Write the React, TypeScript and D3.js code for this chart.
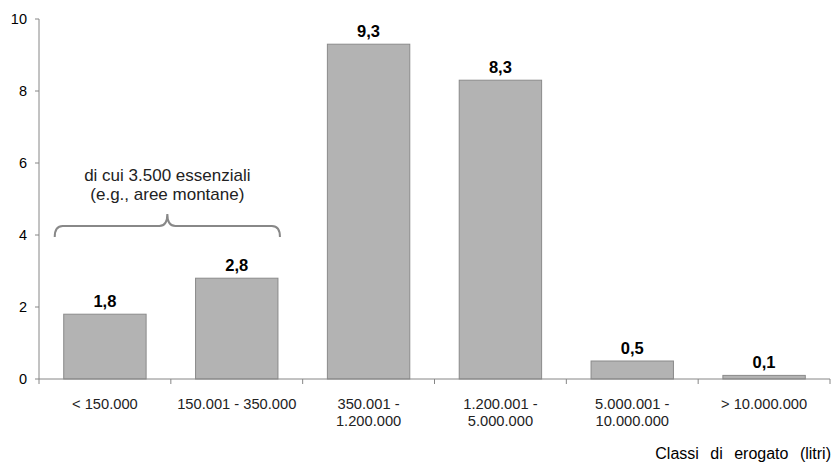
import React from "react";
import * as d3 from "d3";

const categories = ["< 150.000", "150.001 - 350.000", "350.001 -\n1.200.000", "1.200.001 -\n5.000.000", "5.000.001 -\n10.000.000", "> 10.000.000"];
const values = [1.8, 2.8, 9.3, 8.3, 0.5, 0.1];
const yTicks = [0, 2, 4, 6, 8, 10];
const annotationLines = ["di cui 3.500 essenziali", "(e.g., aree montane)"];
const axisTitle = "Classi di erogato (litri)";

const W = 833, H = 464;
const left = 39, right = 830, top = 19, bottom = 379;

export default function App() {
  const x = d3.scaleBand<string>().domain(categories).range([left, right]).paddingInner(0.375).paddingOuter(0.1875);
  const step = x.step();
  const y = d3.scaleLinear().domain([0, 10]).range([bottom, top]);
  const fmt = (v: number) => v.toFixed(1).replace(".", ",");
  const font = "'Liberation Sans', Arial, sans-serif";
  const axisColor = "#868686";

  // brace spanning first two bars
  const bx0 = (x(categories[0]) ?? 0) - 9;
  const bx1 = (x(categories[1]) ?? 0) + x.bandwidth() + 2;
  const bm = (bx0 + bx1) / 2;
  const bTop = 226, bEnd = 237, bTip = 214, r = 8;
  const brace = `M${bx0},${bEnd} Q${bx0},${bTop} ${bx0 + r},${bTop} L${bm - r},${bTop} Q${bm},${bTop} ${bm},${bTip} Q${bm},${bTop} ${bm + r},${bTop} L${bx1 - r},${bTop} Q${bx1},${bTop} ${bx1},${bEnd}`;

  return (
    <svg width={W} height={H} style={{ position: "absolute", left: 0, top: 0, background: "#fff" }} fontFamily={font}>
      {/* bars */}
      {categories.map((c, i) => (
        <rect key={c} x={x(c)} y={y(values[i])} width={x.bandwidth()} height={bottom - y(values[i])}
          fill="#b3b3b3" stroke="#8a8a8a" strokeWidth={1} />
      ))}
      {/* value labels */}
      {categories.map((c, i) => (
        <text key={"v" + c} x={(x(c) ?? 0) + x.bandwidth() / 2} y={y(values[i]) - 7} textAnchor="middle"
          fontSize={16.5} fontWeight="bold" fill="#000">{fmt(values[i])}</text>
      ))}
      {/* y axis */}
      <line x1={left} x2={left} y1={top} y2={bottom} stroke={axisColor} />
      {yTicks.map(t => (
        <g key={t}>
          <line x1={left - 4} x2={left} y1={y(t)} y2={y(t)} stroke={axisColor} />
          <text x={left - 12} y={y(t)} dy="0.35em" textAnchor="end" fontSize={14.5} fill="#000">{t}</text>
        </g>
      ))}
      {/* x axis */}
      <line x1={left} x2={right} y1={bottom} y2={bottom} stroke={axisColor} />
      {d3.range(categories.length + 1).map(i => (
        <line key={"xt" + i} x1={left + i * step} x2={left + i * step} y1={bottom} y2={bottom + 5} stroke={axisColor} />
      ))}
      {categories.map(c => (
        <text key={"xl" + c} x={(x(c) ?? 0) + x.bandwidth() / 2} y={408.5} textAnchor="middle" fontSize={14.7} fill="#222">
          {c.split("\n").map((line, j) => (
            <tspan key={j} x={(x(c) ?? 0) + x.bandwidth() / 2} dy={j === 0 ? 0 : 17.5}>{line}</tspan>
          ))}
        </text>
      ))}
      <text x={831} y={459} textAnchor="end" fontSize={16} fill="#000" wordSpacing={7}>{axisTitle}</text>
      {/* annotation */}
      {annotationLines.map((l, i) => (
        <text key={l} x={bm} y={181 + i * 18.5} textAnchor="middle" fontSize={17} fill="#222">{l}</text>
      ))}
      <path d={brace} fill="none" stroke="#888" strokeWidth={2} />
    </svg>
  );
}
